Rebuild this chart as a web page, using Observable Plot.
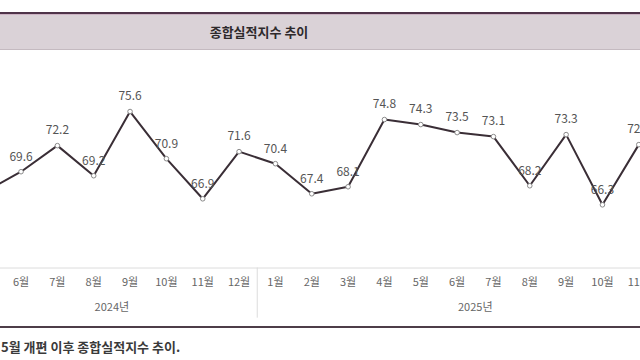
<!DOCTYPE html>
<html>
<head>
<meta charset="utf-8">
<script src="https://cdn.jsdelivr.net/npm/d3@7"></script>
<script src="https://cdn.jsdelivr.net/npm/@observablehq/plot@0.6"></script>
<style>
  html, body { margin: 0; padding: 0; background: #fff; width: 640px; height: 360px; overflow: hidden; }
  body { font-family: "Noto Sans CJK KR", "Noto Sans", sans-serif; position: relative; }
  #topline { position: absolute; left: 0; top: 12px; width: 640px; height: 2px; background: #4f3449; }
  #topline2 { position: absolute; left: 0; top: 14px; width: 640px; height: 1px; background: #cdb3c4; }
  #band { position: absolute; left: 0; top: 15px; width: 640px; height: 34px; background: #dad2d7; border-bottom: 1px solid #c4bac0; }
  #title { position: absolute; left: 0; top: 15px; width: 518px; height: 34px; line-height: 34px; text-align: center; font-size: 13px; font-weight: bold; color: #2e2a2c; }
  #chart { position: absolute; left: 0; top: 50px; }
  #bottomline { position: absolute; left: 0; top: 326px; width: 640px; height: 2px; background: #4d3d48; }
  #caption { position: absolute; left: 1px; top: 337px; font-size: 13px; font-weight: bold; color: #3a3a3a; white-space: nowrap; }
</style>
</head>
<body>
<div id="topline"></div>
<div id="topline2"></div>
<div id="band"></div>
<div id="title">종합실적지수 추이</div>
<div id="chart"></div>
<div id="bottomline"></div>
<div id="caption">5월 개편 이후 종합실적지수 추이.</div>
<script>
// Month labels (2024-05 .. 2025-12), index-based positions
const monthLabels = ["5월","6월","7월","8월","9월","10월","11월","12월",
                     "1월","2월","3월","4월","5월","6월","7월","8월","9월","10월","11월","12월"];
// Composite performance index values (2024-05 .. 2025-11)
const values = [67.6, 69.6, 72.2, 69.2, 75.6, 70.9, 66.9, 71.6,
                70.4, 67.4, 68.1, 74.8, 74.3, 73.5, 73.1, 68.2, 73.3, 66.3, 72.3];
const yearLabels = ["2024년", "2025년"];
const yearSpans = [[0, 7], [8, 19]];
const yearDivider = [7.5];

const data = values.map((v, i) => ({i, v}));
const months = monthLabels.map((m, i) => ({i, m}));
const years = yearLabels.map((y, k) => ({y, c: (yearSpans[k][0] + yearSpans[k][1]) / 2}));

const chart = Plot.plot({
  width: 640,
  height: 276,
  marginTop: 0, marginRight: 0, marginBottom: 0, marginLeft: 0,
  style: {fontFamily: "'Noto Sans CJK KR', 'Noto Sans', sans-serif", background: "transparent"},
  x: {type: "linear", domain: [0, 18], range: [-15.8, 638.3], axis: null},
  y: {domain: [60, 80], range: [217.5, 16.9], axis: null},
  marks: [
    Plot.ruleY([60], {stroke: "#dcdcdc", strokeWidth: 1}),
    Plot.ruleX(yearDivider, {y1: 60, y2: 55, stroke: "#dcdcdc", strokeWidth: 1}),
    Plot.line(data, {x: "i", y: "v", stroke: "#3a2e36", strokeWidth: 2}),
    Plot.dot(data, {x: "i", y: "v", r: 2.3, stroke: "#8a8a8a", strokeWidth: 1, fill: "white"}),
    Plot.text(data, {x: "i", y: "v", text: d => d.v.toFixed(1), dy: -15, fill: "#555", fontSize: 12}),
    Plot.text(months, {x: "i", y: () => 60, text: "m", dy: 14.5, fill: "#666", fontSize: 11}),
    Plot.text(years, {x: "c", y: () => 60, text: "y", dy: 39.5, fill: "#666", fontSize: 11})
  ]
});
document.getElementById("chart").appendChild(chart);
</script>
</body>
</html>
